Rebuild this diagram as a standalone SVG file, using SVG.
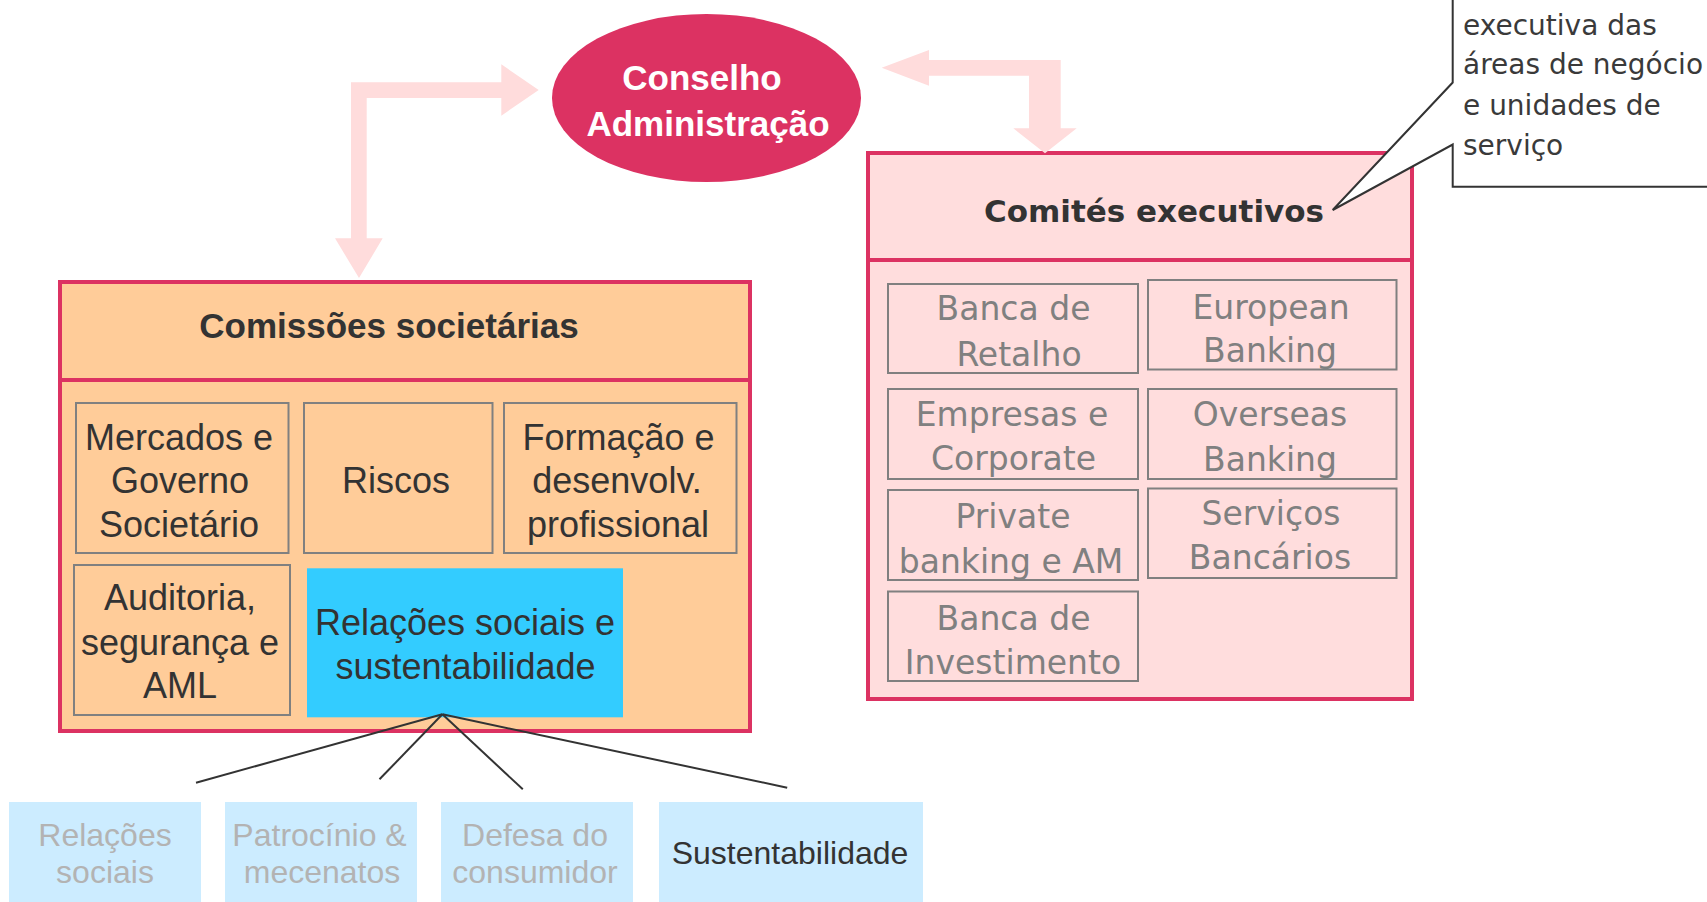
<svg xmlns="http://www.w3.org/2000/svg" width="1707" height="902" viewBox="0 0 1707 902">
<style>
.frame{stroke:#DC3262;stroke-width:4}
.cell{fill:none;stroke:#808080;stroke-width:2}
.lt{font-family:"Liberation Sans",Arial,sans-serif;font-size:36px;fill:#333333;text-anchor:middle}
.rt{font-family:"DejaVu Sans",Verdana,sans-serif;font-size:33px;fill:#808080;text-anchor:middle}
.bt{font-family:"Liberation Sans",Arial,sans-serif;font-size:32px;fill:#B3B3B3;text-anchor:middle}
.ct{font-family:"DejaVu Sans",Verdana,sans-serif;font-size:28px;fill:#3A3A3A}
.conn{fill:none;stroke:#333333;stroke-width:2}
.arrow{fill:#FFDCDC}
.sub{fill:#CCECFF}
</style>
<rect width="1707" height="902" fill="#FFFFFF"/>

<g id="conselho">
  <ellipse cx="706.5" cy="98" rx="154.5" ry="84" fill="#DC3262"/>
  <text x="702" y="89.5" font-family="'Liberation Sans',Arial,sans-serif" font-size="35" font-weight="bold" fill="#FFFFFF" text-anchor="middle">Conselho</text>
  <text x="708" y="135.5" font-family="'Liberation Sans',Arial,sans-serif" font-size="35" font-weight="bold" fill="#FFFFFF" text-anchor="middle">Administração</text>
</g>

<g id="comissoes">
  <rect class="frame" x="60" y="282" width="690" height="449" fill="#FFCC99"/>
  <line class="frame" x1="60" y1="380" x2="750" y2="380"/>
  <text x="389" y="338" font-family="'Liberation Sans',Arial,sans-serif" font-size="35" font-weight="bold" fill="#333333" text-anchor="middle">Comissões societárias</text>
</g>

<g id="mercados">
  <rect class="cell" x="76" y="403" width="212.5" height="150"/>
  <text class="lt" x="179" y="450">Mercados e</text>
  <text class="lt" x="180" y="493.3">Governo</text>
  <text class="lt" x="179" y="536.7">Societário</text>
</g>
<g id="riscos">
  <rect class="cell" x="304" y="403" width="188.5" height="150"/>
  <text class="lt" x="396" y="492.7">Riscos</text>
</g>
<g id="formacao">
  <rect class="cell" x="504" y="403" width="232.5" height="150"/>
  <text class="lt" x="618.5" y="450">Formação e</text>
  <text class="lt" x="617" y="493.3">desenvolv.</text>
  <text class="lt" x="618" y="536.7">profissional</text>
</g>
<g id="auditoria">
  <rect class="cell" x="74" y="565" width="216" height="150"/>
  <text class="lt" x="180" y="610">Auditoria,</text>
  <text class="lt" x="180" y="655">segurança e</text>
  <text class="lt" x="180" y="698.3">AML</text>
</g>
<g id="relacoes">
  <rect x="307" y="568.3" width="316" height="149" fill="#33CCFF"/>
  <text class="lt" x="465" y="635">Relações sociais e</text>
  <text class="lt" x="465.5" y="679.3">sustentabilidade</text>
</g>

<g id="comites">
  <rect class="frame" x="868" y="153" width="544" height="546" fill="#FFDDDD"/>
  <line class="frame" x1="868" y1="260" x2="1412" y2="260"/>
  <text x="1154" y="222" font-family="'DejaVu Sans',Verdana,sans-serif" font-size="31" font-weight="bold" fill="#333333" text-anchor="middle">Comités executivos</text>
</g>

<g id="banca-retalho">
  <rect class="cell" x="888" y="284" width="250" height="89"/>
  <text class="rt" x="1013.5" y="320">Banca de</text>
  <text class="rt" x="1019" y="366">Retalho</text>
</g>
<g id="european">
  <rect class="cell" x="1148" y="280" width="248.5" height="89.5"/>
  <text class="rt" x="1271" y="319">European</text>
  <text class="rt" x="1270" y="361.5">Banking</text>
</g>
<g id="empresas">
  <rect class="cell" x="888" y="389" width="250" height="90"/>
  <text class="rt" x="1012" y="426">Empresas e</text>
  <text class="rt" x="1013.5" y="470">Corporate</text>
</g>
<g id="overseas">
  <rect class="cell" x="1148" y="389" width="248.5" height="90"/>
  <text class="rt" x="1270" y="426">Overseas</text>
  <text class="rt" x="1270" y="471">Banking</text>
</g>
<g id="private">
  <rect class="cell" x="888" y="490" width="250" height="90"/>
  <text class="rt" x="1013" y="528">Private</text>
  <text class="rt" x="1011" y="573">banking e AM</text>
</g>
<g id="servicos">
  <rect class="cell" x="1148" y="488.5" width="248.5" height="89.5"/>
  <text class="rt" x="1271" y="525">Serviços</text>
  <text class="rt" x="1270" y="568.5">Bancários</text>
</g>
<g id="banca-investimento">
  <rect class="cell" x="888" y="591.5" width="250" height="89.5"/>
  <text class="rt" x="1013.5" y="630">Banca de</text>
  <text class="rt" x="1013" y="674">Investimento</text>
</g>

<g id="callout">
  <path d="M1452.7,-5 L1452.7,82.5 L1332.7,210 L1452.7,144.5 L1452.7,186.7 L1712,186.7 L1712,-5 Z" fill="#FFFFFF"/>
  <path class="conn" d="M1452.7,-5 L1452.7,82.5 L1332.7,210 L1452.7,144.5 L1452.7,186.7 L1712,186.7"/>
  <text class="ct" x="1463" y="35">executiva das</text>
  <text class="ct" x="1463" y="74">áreas de negócio</text>
  <text class="ct" x="1463" y="115">e unidades de</text>
  <text class="ct" x="1463" y="155">serviço</text>
</g>

<g id="relacoes-sociais">
  <rect class="sub" x="9" y="802" width="192" height="110"/>
  <text class="bt" x="105" y="846">Relações</text>
  <text class="bt" x="105" y="883">sociais</text>
</g>
<g id="patrocinio">
  <rect class="sub" x="225" y="802" width="192" height="110"/>
  <text class="bt" x="319.5" y="846">Patrocínio &amp;</text>
  <text class="bt" x="322" y="883">mecenatos</text>
</g>
<g id="defesa">
  <rect class="sub" x="441" y="802" width="192" height="110"/>
  <text class="bt" x="535" y="846">Defesa do</text>
  <text class="bt" x="535" y="883">consumidor</text>
</g>
<g id="sustentabilidade">
  <rect class="sub" x="659" y="802" width="264" height="110"/>
  <text class="bt" x="790" y="863.5" style="fill:#333333">Sustentabilidade</text>
</g>

<g id="connectors">
  <polygon class="arrow" points="351,82.3 501.3,82.3 501.3,64.3 538.7,90 501.3,115.7 501.3,98 366.7,98 366.7,238.3 382.7,238.3 359,278 335,238.3 351,238.3"/>
  <polygon class="arrow" points="1060.7,60 1060.7,128.3 1076.7,128.3 1045,153.3 1013.3,128.3 1029,128.3 1029,75.7 929,75.7 929,85.7 881.7,67.7 929,50 929,60"/>
  <line class="conn" x1="442.4" y1="714.3" x2="196" y2="782.7"/>
  <line class="conn" x1="442.4" y1="714.3" x2="379.5" y2="779.3"/>
  <line class="conn" x1="442.4" y1="714.3" x2="522.8" y2="789.3"/>
  <line class="conn" x1="442.4" y1="714.3" x2="787.2" y2="787.7"/>
</g>
</svg>
